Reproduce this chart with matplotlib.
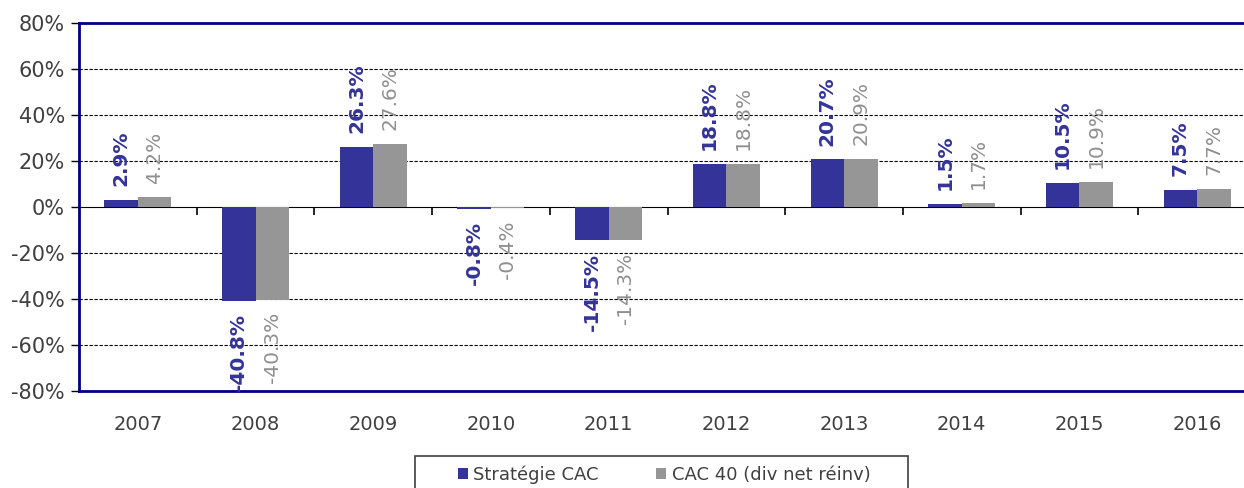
import matplotlib
matplotlib.use("Agg")
import matplotlib.pyplot as plt
import numpy as np
from matplotlib.patches import Rectangle

years = ["2007", "2008", "2009", "2010", "2011", "2012", "2013", "2014", "2015", "2016"]
strategie = [2.9, -40.8, 26.3, -0.8, -14.5, 18.8, 20.7, 1.5, 10.5, 7.5]
cac40 = [4.2, -40.3, 27.6, -0.4, -14.3, 18.8, 20.9, 1.7, 10.9, 7.7]
series_names = ["Stratégie CAC", "CAC 40 (div net réinv)"]
yticks = [-80, -60, -40, -20, 0, 20, 40, 60, 80]

NAVY = "#333399"
GREY = "#969696"
TXT = "#404040"

plt.rcParams['font.family'] = ['DejaVu Sans']

fig = plt.figure(figsize=(12.44, 4.88), dpi=100)
ax = fig.add_axes([79/1244, 97/488, 1177/1244, 368/488])

x = np.arange(len(years))
w = 0.285
b1 = ax.bar(x - w/2, strategie, w, color=NAVY, label=series_names[0], zorder=3)
b2 = ax.bar(x + w/2, cac40, w, color=GREY, label=series_names[1], zorder=3)

for bars, vals, col, wt in [(b1, strategie, NAVY, 'bold'), (b2, cac40, "#8f8f8f", 'normal')]:
    for r, v in zip(bars, vals):
        cx = r.get_x() + r.get_width()/2
        off = 10 if v >= 0 else -9
        ax.annotate(f"{v:.1f}%", (cx, v), xytext=(0, off), textcoords='offset points',
                    rotation=90, ha='center', va='bottom' if v >= 0 else 'top',
                    color=col, fontweight=wt, fontsize=14.5, zorder=4)

ax.set_xlim(-0.5, len(years) - 0.5)
ax.set_ylim(-80, 80)
ax.set_yticks(yticks)
ax.set_yticklabels([f"{t}%" for t in yticks], fontsize=15, color=TXT)
ax.tick_params(axis='y', direction='out', length=6, width=1, color='black', pad=4)

for t in yticks:
    if t not in (-80, 0, 80):
        ax.axhline(t, color='black', linestyle=(0, (3, 1.5)), linewidth=0.8, zorder=1)

ax.set_xticks(x)
ax.set_xticklabels(years, fontsize=14, color=TXT)
ax.tick_params(axis='x', length=0, pad=17)

for s in ['left', 'top', 'bottom']:
    ax.spines[s].set_color('#000080')
    ax.spines[s].set_linewidth(2)
ax.spines['right'].set_visible(False)

sec = ax.secondary_xaxis(0.5)
sec.set_xticks(np.arange(0.5, len(years) - 0.5, 1.0))
sec.set_xticklabels([])
sec.tick_params(axis='x', direction='in', length=6, width=1.2, color='black')
sec.spines['bottom'].set_color('#707070')
sec.spines['bottom'].set_linewidth(1.3)
sec.spines['bottom'].set_zorder(5)

handles = [b1, b2]
leg = fig.legend(handles, series_names, loc='center', bbox_to_anchor=(664/1244, 1 - 475/488),
                 ncol=2, frameon=False, fontsize=13, handlelength=0.55, handleheight=0.55,
                 handletextpad=0.3, columnspacing=3.2, labelcolor=TXT)
fig.patches.append(Rectangle((415/1244, -0.02), (908-415)/1244, (488-456)/488 + 0.02,
                             transform=fig.transFigure, fill=False, edgecolor='#404040',
                             linewidth=1.2))

fig.savefig("out.png", dpi=100)
